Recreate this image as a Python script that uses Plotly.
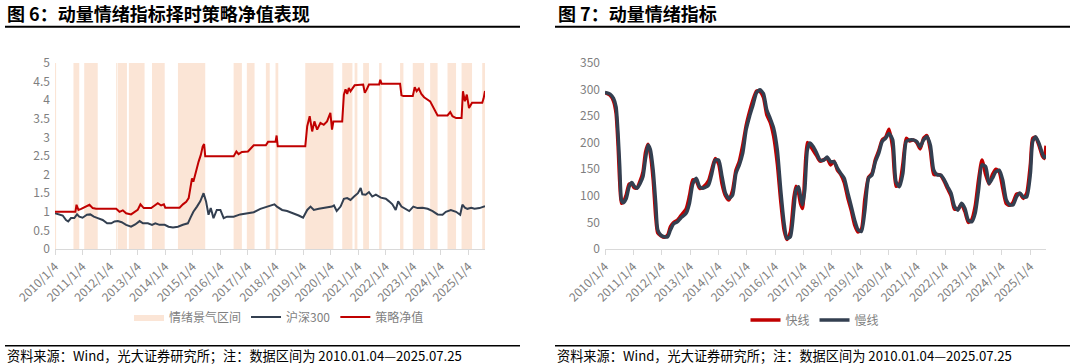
import plotly.graph_objects as go

# ---------------- data ----------------
tick_years = [2010, 2011, 2012, 2013, 2014, 2015, 2016, 2017, 2018, 2019, 2020, 2021, 2022, 2023, 2024, 2025]
tick_labels = ["2010/1/4", "2011/1/4", "2012/1/4", "2013/1/4", "2014/1/4", "2015/1/4", "2016/1/4", "2017/1/4",
               "2018/1/4", "2019/1/4", "2020/1/4", "2021/1/4", "2022/1/4", "2023/1/4", "2024/1/4", "2025/1/4"]

# sentiment boom intervals (start, end) in fractional years
band_start = [2010.00, 2010.67, 2011.06, 2012.22, 2012.28, 2012.68, 2013.52, 2014.46, 2016.48, 2016.96,
              2017.65, 2018.00, 2019.08, 2020.42, 2020.87, 2021.18, 2021.76, 2022.52, 2022.98, 2023.61,
              2024.24, 2024.75, 2025.50]
band_end = [2010.04, 2010.88, 2011.55, 2012.26, 2012.61, 2013.25, 2013.98, 2015.45, 2016.78, 2017.24,
            2017.79, 2018.10, 2020.10, 2020.79, 2020.97, 2021.39, 2021.85, 2022.64, 2023.39, 2023.88,
            2024.55, 2025.13, 2025.60]

hs300_t = [2010.00, 2010.16, 2010.28, 2010.40, 2010.48, 2010.58, 2010.70, 2010.80, 2010.88, 2011.00,
           2011.16, 2011.28, 2011.41, 2011.55, 2011.73, 2011.89, 2012.04, 2012.16, 2012.28, 2012.42,
           2012.58, 2012.76, 2012.91, 2013.07, 2013.19, 2013.37, 2013.52, 2013.64, 2013.79, 2013.98,
           2014.12, 2014.28, 2014.46, 2014.64, 2014.82, 2014.92, 2015.02, 2015.15, 2015.27, 2015.39,
           2015.48, 2015.57, 2015.65, 2015.75, 2015.87, 2016.00, 2016.12, 2016.24, 2016.48, 2016.72,
           2016.96, 2017.21, 2017.45, 2017.69, 2017.96, 2018.05, 2018.24, 2018.42, 2018.66, 2018.84,
           2019.00, 2019.15, 2019.27, 2019.39, 2019.57, 2019.75, 2019.93, 2020.05, 2020.12, 2020.22,
           2020.36, 2020.48, 2020.60, 2020.72, 2020.85, 2020.99, 2021.09, 2021.15, 2021.27, 2021.39,
           2021.51, 2021.64, 2021.82, 2022.00, 2022.12, 2022.24, 2022.36, 2022.45, 2022.57, 2022.73,
           2022.85, 2023.00, 2023.15, 2023.33, 2023.52, 2023.70, 2023.88, 2024.06, 2024.18, 2024.36,
           2024.55, 2024.70, 2024.78, 2024.87, 2024.96, 2025.10, 2025.22, 2025.40, 2025.60]
hs300_v = [0.96, 0.92, 0.90, 0.78, 0.74, 0.83, 0.83, 0.93, 0.87, 0.84,
           0.92, 0.93, 0.87, 0.83, 0.78, 0.69, 0.69, 0.74, 0.75, 0.72,
           0.65, 0.60, 0.66, 0.75, 0.69, 0.69, 0.65, 0.69, 0.65, 0.65,
           0.60, 0.58, 0.60, 0.65, 0.69, 0.85, 1.00, 1.14, 1.28, 1.50,
           1.28, 0.92, 1.10, 0.83, 1.05, 1.05, 0.83, 0.87, 0.87, 0.93,
           0.96, 0.99, 1.08, 1.14, 1.20, 1.14, 1.05, 1.02, 0.96, 0.90,
           0.84, 1.05, 1.14, 1.05, 1.08, 1.10, 1.11, 1.14, 1.17, 1.02,
           1.14, 1.35, 1.37, 1.32, 1.41, 1.50, 1.64, 1.47, 1.46, 1.53,
           1.41, 1.46, 1.38, 1.35, 1.28, 1.20, 1.05, 1.28, 1.14, 1.08,
           1.02, 1.14, 1.10, 1.11, 1.08, 1.02, 0.93, 0.92, 1.00, 1.05,
           1.00, 0.92, 1.19, 1.11, 1.08, 1.11, 1.08, 1.10, 1.15]

nav_t = [2010.00, 2010.68, 2010.74, 2010.78, 2010.85, 2010.95, 2011.13, 2011.25, 2011.37, 2011.49,
         2012.22, 2012.34, 2012.46, 2012.58, 2012.76, 2012.88, 2013.00, 2013.10, 2013.22, 2013.49,
         2013.61, 2013.73, 2013.85, 2013.95, 2014.00, 2014.52, 2014.64, 2014.76, 2014.85, 2014.92,
         2014.97, 2015.02, 2015.08, 2015.21, 2015.29, 2015.36, 2015.41, 2015.45, 2016.48, 2016.58,
         2016.66, 2016.78, 2017.00, 2017.21, 2017.65, 2017.73, 2018.00, 2018.04, 2018.08, 2019.08,
         2019.15, 2019.24, 2019.33, 2019.41, 2019.51, 2019.63, 2019.75, 2019.87, 2019.99, 2020.05,
         2020.10, 2020.42, 2020.48, 2020.54, 2020.60, 2020.66, 2020.72, 2020.79, 2020.87, 2021.18,
         2021.24, 2021.31, 2021.39, 2021.76, 2021.80, 2021.85, 2022.52, 2022.57, 2022.64, 2022.98,
         2023.05, 2023.12, 2023.20, 2023.29, 2023.39, 2023.61, 2023.70, 2023.78, 2023.88, 2024.24,
         2024.34, 2024.42, 2024.55, 2024.75, 2024.80, 2024.87, 2024.94, 2025.02, 2025.13, 2025.50,
         2025.55, 2025.60]
nav_v = [1.00, 1.00, 1.00, 1.19, 1.05, 1.08, 1.14, 1.19, 1.10, 1.08,
         1.08, 1.00, 1.04, 0.96, 0.93, 1.00, 1.05, 1.20, 1.10, 1.10,
         1.17, 1.23, 1.17, 1.20, 1.11, 1.11, 1.20, 1.27, 1.37, 1.64,
         1.90, 1.81, 2.00, 2.35, 2.53, 2.76, 2.82, 2.49, 2.49, 2.62,
         2.55, 2.61, 2.62, 2.79, 2.79, 2.88, 2.88, 3.05, 2.76, 2.76,
         3.30, 3.57, 3.16, 3.43, 3.21, 3.39, 3.34, 3.43, 3.66, 3.21,
         3.43, 3.43, 4.15, 4.29, 4.17, 4.33, 4.24, 4.33, 4.40, 4.42,
         4.20, 4.29, 4.42, 4.42, 4.55, 4.44, 4.44, 4.13, 4.11, 4.11,
         4.35, 4.24, 4.31, 4.17, 4.08, 3.97, 3.84, 3.70, 3.59, 3.59,
         3.68, 3.57, 3.52, 3.52, 4.24, 3.97, 4.15, 3.79, 3.93, 3.93,
         4.05, 4.25]

mom_t = [2010.00, 2010.18, 2010.30, 2010.39, 2010.46, 2010.52, 2010.58, 2010.64, 2010.75, 2010.85,
         2010.95, 2011.03, 2011.13, 2011.24, 2011.34, 2011.43, 2011.52, 2011.60, 2011.70, 2011.79,
         2011.86, 2011.97, 2012.09, 2012.21, 2012.31, 2012.43, 2012.55, 2012.67, 2012.86, 2012.98,
         2013.10, 2013.22, 2013.34, 2013.46, 2013.65, 2013.77, 2013.89, 2014.01, 2014.13, 2014.25,
         2014.37, 2014.50, 2014.62, 2014.74, 2014.86, 2014.98, 2015.10, 2015.22, 2015.35, 2015.47,
         2015.59, 2015.71, 2015.83, 2015.95, 2016.08, 2016.20, 2016.32, 2016.42, 2016.54, 2016.66,
         2016.74, 2016.83, 2016.90, 2016.97, 2017.05, 2017.14, 2017.23, 2017.35, 2017.47, 2017.59,
         2017.72, 2017.84, 2017.96, 2018.08, 2018.20, 2018.32, 2018.44, 2018.57, 2018.69, 2018.81,
         2018.93, 2019.05, 2019.17, 2019.30, 2019.42, 2019.54, 2019.66, 2019.78, 2019.90, 2020.02,
         2020.15, 2020.27, 2020.39, 2020.51, 2020.63, 2020.75, 2020.87, 2021.00, 2021.12, 2021.24,
         2021.36, 2021.48, 2021.60, 2021.73, 2021.85, 2021.97, 2022.09, 2022.21, 2022.33, 2022.45,
         2022.58, 2022.70, 2022.82, 2022.94, 2023.06, 2023.18, 2023.30, 2023.43, 2023.55, 2023.67,
         2023.79, 2023.91, 2024.03, 2024.16, 2024.28, 2024.40, 2024.52, 2024.64, 2024.76, 2024.88,
         2025.01, 2025.09, 2025.19, 2025.31, 2025.43, 2025.50, 2025.56]
fast_v = [294, 289, 278, 255, 195, 125, 86, 88, 102, 122,
          122, 115, 115, 128, 145, 182, 197, 178, 130, 60,
          30, 25, 22, 26, 42, 50, 54, 62, 75, 100,
          130, 128, 114, 116, 128, 150, 170, 160, 122, 100,
          92, 110, 148, 165, 195, 232, 258, 280, 297, 296,
          285, 252, 238, 212, 160, 90, 35, 18, 32, 95,
          118, 105, 85, 76, 140, 200, 195, 185, 175, 165,
          168, 170, 158, 165, 148, 140, 125, 95, 72, 45,
          32, 38, 95, 135, 142, 168, 185, 205, 210, 225,
          190, 118, 122, 160, 208, 203, 205, 200, 188, 208,
          213, 185, 140, 140, 138, 127, 113, 100, 75, 75,
          84, 70, 50, 55, 80, 130, 167, 140, 122, 140,
          150, 145, 115, 85, 82, 88, 103, 104, 95, 105,
          160, 208, 210, 195, 175, 170, 194]
slow_v = [294, 291, 283, 267, 217, 155, 92, 87, 95, 117,
          125, 118, 114, 123, 136, 170, 195, 187, 148, 86,
          36, 26, 23, 23, 36, 48, 51, 58, 67, 86,
          123, 133, 117, 114, 120, 142, 167, 167, 136, 105,
          95, 101, 142, 158, 180, 224, 249, 270, 294, 299,
          292, 261, 245, 227, 186, 111, 48, 20, 23, 73,
          111, 117, 98, 83, 111, 186, 199, 192, 180, 167,
          167, 173, 164, 164, 152, 142, 133, 105, 80, 54,
          36, 33, 73, 133, 139, 164, 180, 202, 208, 217,
          205, 126, 117, 142, 202, 205, 205, 202, 192, 205,
          211, 195, 148, 139, 139, 130, 117, 105, 80, 73,
          86, 76, 54, 51, 67, 111, 158, 155, 123, 133,
          145, 148, 130, 92, 83, 83, 98, 105, 98, 98,
          142, 202, 211, 199, 180, 172, 176]

# ---------------- styles ----------------
RED = "#C00000"
DARK = "#333F50"
PEACH = "#FBE5D6"
GRAY = "#7F7F7F"
AXIS = "#D9D9D9"
FONT = "Noto Sans CJK SC"
W, H = 1080, 364
nav_top = 5

def px(x):
    return x / W

def py(y):
    return 1 - y / H

fig = go.Figure()

# bands as filled rectangles on the data scale
bx, by = [], []
for s, e in zip(band_start, band_end):
    bx += [s, s, e, e, s, None]
    by += [0, nav_top, nav_top, 0, 0, None]
fig.add_trace(go.Scatter(x=bx, y=by, mode="lines", fill="toself", fillcolor=PEACH,
                         line=dict(width=0, color=PEACH), name="情绪景气区间",
                         xaxis="x", yaxis="y", legend="legend", hoverinfo="skip"))
fig.add_trace(go.Scatter(x=hs300_t, y=hs300_v, mode="lines", line=dict(color=DARK, width=2),
                         name="沪深300", xaxis="x", yaxis="y", legend="legend"))
fig.add_trace(go.Scatter(x=nav_t, y=nav_v, mode="lines", line=dict(color=RED, width=2),
                         name="策略净值", xaxis="x", yaxis="y", legend="legend"))

fig.add_trace(go.Scatter(x=mom_t, y=fast_v, mode="lines", line=dict(color=RED, width=3.5, shape="spline", smoothing=0.6),
                         name="快线", xaxis="x2", yaxis="y2", legend="legend2"))
fig.add_trace(go.Scatter(x=mom_t, y=slow_v, mode="lines", line=dict(color=DARK, width=3.5, shape="spline", smoothing=0.6),
                         name="慢线", xaxis="x2", yaxis="y2", legend="legend2"))

xcommon = dict(tickmode="array", tickvals=tick_years, ticktext=tick_labels, tickangle=-45,
               showline=True, linecolor=AXIS, linewidth=1, ticks="outside", ticklen=5, tickcolor=AXIS,
               showgrid=False, zeroline=False, automargin=False,
               tickfont=dict(size=12, color=GRAY, family=FONT))
ycommon = dict(showline=False, showgrid=False, zeroline=False, ticks="", automargin=False,
               tickfont=dict(size=12, color=GRAY, family=FONT), ticklabelstandoff=4)

fig.update_layout(
    width=W, height=H, margin=dict(l=0, r=0, t=0, b=0, autoexpand=False),
    paper_bgcolor="white", plot_bgcolor="white",
    font=dict(family=FONT, color=GRAY, size=12),
    xaxis=dict(domain=[px(55), px(485)], range=[2010.0, 2025.6], anchor="y", **xcommon),
    yaxis=dict(domain=[py(249), py(63)], range=[0, 5], dtick=0.5, anchor="x", **ycommon),
    xaxis2=dict(domain=[px(605), px(1046)], range=[2010.0, 2025.56], anchor="y2", **xcommon),
    yaxis2=dict(domain=[py(249), py(62.7)], range=[0, 350], dtick=50, anchor="x2", **ycommon),
    legend=dict(orientation="h", x=px(279), xanchor="center", y=py(317), yanchor="middle",
                font=dict(size=12, color=GRAY, family=FONT), bgcolor="rgba(0,0,0,0)"),
    legend2=dict(orientation="h", x=px(815), xanchor="center", y=py(320), yanchor="middle",
                 font=dict(size=12, color=GRAY, family=FONT), bgcolor="rgba(0,0,0,0)"),
    showlegend=True,
)

titles = [("图 6：动量情绪指标择时策略净值表现", 5), ("图 7：动量情绪指标", 556)]
for txt, x0 in titles:
    fig.add_annotation(text="<b>" + txt + "</b>", xref="paper", yref="paper", x=px(x0), y=py(13),
                       xanchor="left", yanchor="middle", showarrow=False,
                       font=dict(size=18, color="#000000", family=FONT))

foot = "资料来源：Wind，光大证券研究所；注：数据区间为 2010.01.04—2025.07.25"
for x0 in (5, 555):
    fig.add_annotation(text=foot, xref="paper", yref="paper", x=px(x0), y=py(355),
                       xanchor="left", yanchor="middle", showarrow=False,
                       font=dict(size=13.2, color="#000000", family=FONT))

for x0, x1 in ((5, 520), (555, 1070)):
    fig.add_shape(type="line", xref="paper", yref="paper", x0=px(x0), x1=px(x1), y0=py(26.7), y1=py(26.7),
                  line=dict(color="#000000", width=2))
    fig.add_shape(type="line", xref="paper", yref="paper", x0=px(x0), x1=px(x1), y0=py(345.7), y1=py(345.7),
                  line=dict(color="#000000", width=1.5))

fig.write_html("out.html", config={"displayModeBar": False},
               post_script="document.body.style.margin='0px'; document.body.style.overflow='hidden';")
